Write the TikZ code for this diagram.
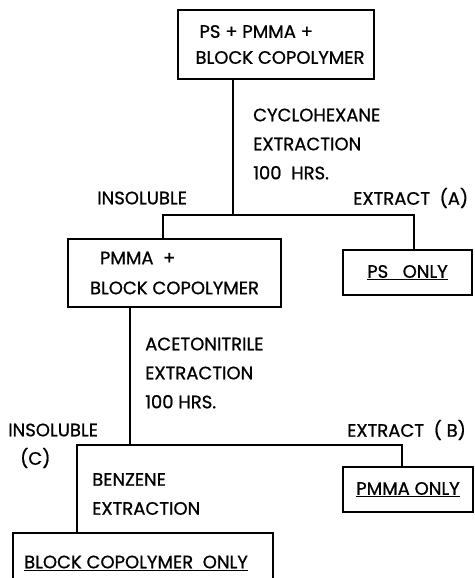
\documentclass[tikz,border=0pt]{standalone}
\usepackage{fontspec}
\setmainfont{Poppins}[FakeBold=0.9]
\usepackage{tikz}
\usetikzlibrary{positioning, calc}
\tikzset{
  sample/.style = {rectangle, draw=black, line width=1.1pt, inner sep=0pt,
                   align=left, font=\fontsize{18}{26}\selectfont},
  step note/.style = {inner sep=0pt, anchor=west, align=left,
                   font=\fontsize{18}{29}\selectfont},
  link/.style   = {line width=1.1pt, color=black},
}
\begin{document}
\begin{tikzpicture}[x=1pt, y=-1pt]
  \useasboundingbox (0,0) rectangle (474,578);
  \clip (0,0) rectangle (474,578);

  % ---- Samples ----
  \node[sample, minimum width=196pt, minimum height=69pt] (mix) at (276,44.5)
       {\hspace*{12pt}PS + PMMA +\\\hspace*{8pt}BLOCK COPOLYMER};
  \node[sample, minimum width=213pt, minimum height=68pt, font=\fontsize{18}{30}\selectfont]
       (insol) at (174.5,273)
       {\hspace*{10pt}PMMA\ \ +\\BLOCK COPOLYMER};
  \node[sample, minimum width=129pt, minimum height=45pt] (psonly) at (407.5,272.5)
       {\underline{PS\ \ \ ONLY}};
  \node[sample, minimum width=130pt, minimum height=45pt] (pmmaonly) at (408,489.5)
       {\underline{PMMA ONLY}};
  \node[sample, minimum width=260pt, minimum height=60pt] (blockonly) at (143,563)
       {\underline{BLOCK COPOLYMER\ \ ONLY}\hspace*{14pt}};

  % ---- Branch points ----
  \coordinate (j1)  at (233,215);
  \coordinate (j1l) at (163,215);
  \coordinate (j1r) at (414,215);
  \coordinate (j2)  at (130,445);
  \coordinate (j2l) at (77,445);
  \coordinate (j2r) at (402,445);

  % ---- First extraction ----
  \draw[link] (mix.south -| j1) -- (j1);
  \draw[link] (insol.north -| j1l) -- (j1l) -- (j1r) -- (psonly.north -| j1r);
  \node[step note] (cyclo) at (253,144) {CYCLOHEXANE\\EXTRACTION\\100\ \ HRS.};
  \node[step note] (insolA) at (97,198) {INSOLUBLE};
  \node[step note] (extA) at (353,198) {EXTRACT\ \ (A)};

  % ---- Second extraction ----
  \draw[link] (insol.south -| j2) -- (j2);
  \draw[link] (blockonly.north -| j2l) -- (j2l) -- (j2r) -- (pmmaonly.north -| j2r);
  \node[step note] (aceto) at (145,373) {ACETONITRILE\\EXTRACTION\\100 HRS.};
  \node[step note] (insolC) at (8,430) {INSOLUBLE};
  \node[step note] (labC) at (20,458) {(C)};
  \node[step note] (extB) at (347,430) {EXTRACT\ \ ( B)};
  \node[step note] (benz) at (92,494) {BENZENE\\EXTRACTION};

\end{tikzpicture}
\end{document}
